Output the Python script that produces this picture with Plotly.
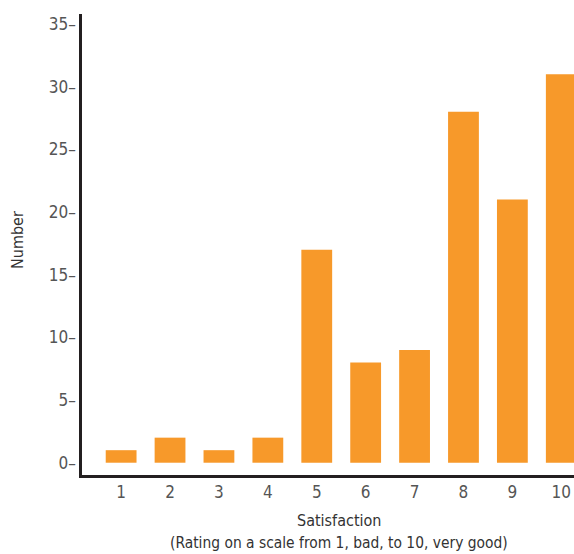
import plotly.graph_objects as go

ratings = [1, 2, 3, 4, 5, 6, 7, 8, 9, 10]
counts = [1, 2, 1, 2, 17, 8, 9, 28, 21, 31]
y_ticks = [0, 5, 10, 15, 20, 25, 30, 35]
y_ticktext = [f"{v}\u2013" for v in y_ticks]
x_title = "Satisfaction"
x_subtitle = "(Rating on a scale from 1, bad, to 10, very good)"
y_title = "Number"

FONT = "DejaVu Sans Condensed, Roboto, sans-serif"
AXIS = "#231f20"
TICK = "#555555"
TITLE = "#333333"
FS = 16
TFS = 17

fig = go.Figure(go.Bar(x=ratings, y=counts, width=0.63, marker=dict(color="#F7992A", line=dict(width=0))))

fig.update_layout(
    width=574, height=554,
    margin=dict(l=82, r=0, t=14, b=79, autoexpand=False),
    plot_bgcolor="white", paper_bgcolor="white",
    showlegend=False,
    font=dict(family=FONT, size=FS, color=TICK),
)
fig.update_xaxes(
    range=[0.2, 10.26], tickvals=ratings, ticktext=[str(r) for r in ratings],
    showline=True, linecolor=AXIS, linewidth=2.5, showgrid=False, zeroline=False,
    ticks="", tickfont=dict(size=TFS, color=TICK),
)
fig.update_yaxes(
    range=[-0.98, 35.81], tickvals=y_ticks, ticktext=y_ticktext,
    showline=True, linecolor=AXIS, linewidth=2.5, showgrid=False, zeroline=False,
    ticks="", tickfont=dict(size=TFS, color=TICK),
)
fig.add_annotation(text=x_title, xref="paper", yref="paper", x=(339-82)/492, y=-(520-475)/461,
                   showarrow=False, font=dict(size=FS, color=TITLE), yanchor="middle")
fig.add_annotation(text=x_subtitle, xref="paper", yref="paper", x=(339-82)/492, y=-(543-475)/461,
                   showarrow=False, font=dict(size=15.4, color=TITLE), yanchor="middle")
fig.add_annotation(text=y_title, xref="paper", yref="paper", x=-(82-18)/492, y=(475-240)/461,
                   showarrow=False, textangle=-90, font=dict(size=FS, color=TITLE),
                   xanchor="center", yanchor="middle")
fig.write_html("out.html", config={"displayModeBar": False},
               post_script="document.body.style.margin='0';")
